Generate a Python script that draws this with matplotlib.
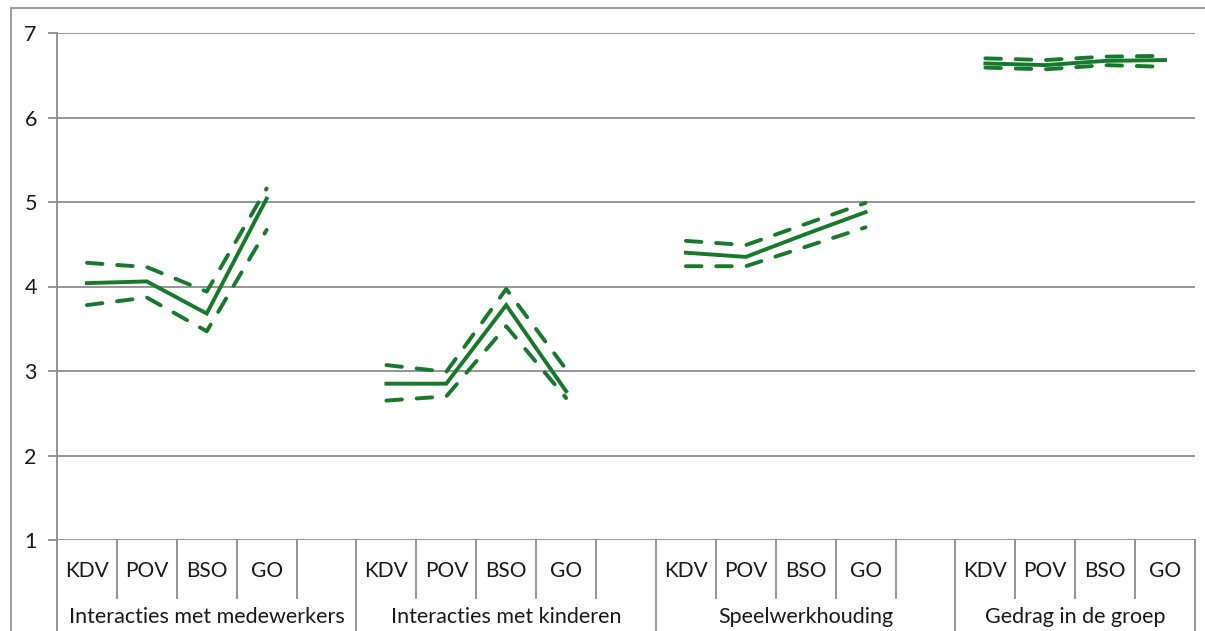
import matplotlib
matplotlib.use('Agg')
import matplotlib.pyplot as plt
import matplotlib.transforms as mtrans
from matplotlib.patches import Rectangle

plt.rcParams['font.family'] = ['Lato', 'DejaVu Sans']

# data
groups = ['Interacties met medewerkers', 'Interacties met kinderen',
          'Speelwerkhouding', 'Gedrag in de groep']
settings = ['KDV', 'POV', 'BSO', 'GO']
slots_per_group = [5, 5, 5, 4]   # last slot of the first three groups is empty

mean_vals = [[4.04, 4.06, 3.68, 5.04],
             [2.85, 2.85, 3.78, 2.76],
             [4.40, 4.35, 4.62, 4.88],
             [6.64, 6.62, 6.67, 6.68]]
upper_vals = [[4.28, 4.23, 3.94, 5.16],
              [3.07, 2.99, 3.97, 3.02],
              [4.54, 4.49, 4.74, 4.99],
              [6.70, 6.68, 6.72, 6.73]]
lower_vals = [[3.78, 3.87, 3.47, 4.67],
              [2.65, 2.70, 3.53, 2.68],
              [4.24, 4.24, 4.47, 4.70],
              [6.59, 6.57, 6.62, 6.60]]
yticks = [1, 2, 3, 4, 5, 6, 7]

green = '#17792b'
grey = '#8c8c8c'

W, H = 1205, 631
fig = plt.figure(figsize=(W / 100, H / 100), dpi=100)
# outer chart frame (cut off at right/bottom)
fig.patches.append(Rectangle((11 / W, -0.1), 1.2, (H - 8) / H + 0.1,
                             transform=fig.transFigure, fill=False,
                             edgecolor='#a0a0a0', lw=1.5))

ax = fig.add_axes([57 / W, 91 / H, 1138 / W, 507 / H])
nslots = sum(slots_per_group)
ax.set_xlim(0, nslots)
ax.set_ylim(1, 7)

for y in yticks:
    ax.axhline(y, color=grey, lw=1.3, zorder=1)

start = 0
for g in range(len(groups)):
    xs = [start + i + 0.5 for i in range(len(settings))]
    ax.plot(xs, mean_vals[g], color=green, lw=2.8, solid_joinstyle='miter', zorder=3)
    ax.plot(xs, upper_vals[g], color=green, lw=2.8, ls=(0, (4.0, 3.8)),
            dash_capstyle='round', zorder=3)
    ax.plot(xs, lower_vals[g], color=green, lw=2.8, ls=(0, (4.0, 3.8)),
            dash_capstyle='round', zorder=3)
    start += slots_per_group[g]

for s in ['top', 'right', 'bottom']:
    ax.spines[s].set_visible(False)
ax.spines['left'].set_color(grey)
ax.spines['left'].set_linewidth(1.3)
ax.set_yticks(yticks)
ax.set_yticklabels([str(v) for v in yticks], fontsize=15.5, color='#1a1a1a')
ax.tick_params(axis='y', length=6.5, width=1.3, color=grey, pad=8)
ax.set_xticks([])

# category table under the axis
trans = mtrans.blended_transform_factory(ax.transData, ax.transAxes)
row1 = -58 / 507
bottom = -92 / 507
start = 0
for g, n in enumerate(slots_per_group):
    ax.plot([start, start], [0, bottom], color=grey, lw=1.3, transform=trans, clip_on=False)
    for i in range(1, n):
        ax.plot([start + i, start + i], [0, row1], color=grey, lw=1.3,
                transform=trans, clip_on=False)
    for i, lab in enumerate(settings):
        ax.text(start + i + 0.5, -31 / 507, lab, transform=trans, ha='center',
                va='center', fontsize=15, color='#1a1a1a')
    ax.text(start + n / 2, -77 / 507, groups[g], transform=trans, ha='center',
            va='center', fontsize=15.5, color='#1a1a1a')
    start += n
ax.plot([nslots, nslots], [0, bottom], color=grey, lw=1.3, transform=trans, clip_on=False)

fig.savefig('out.png', dpi=100)
